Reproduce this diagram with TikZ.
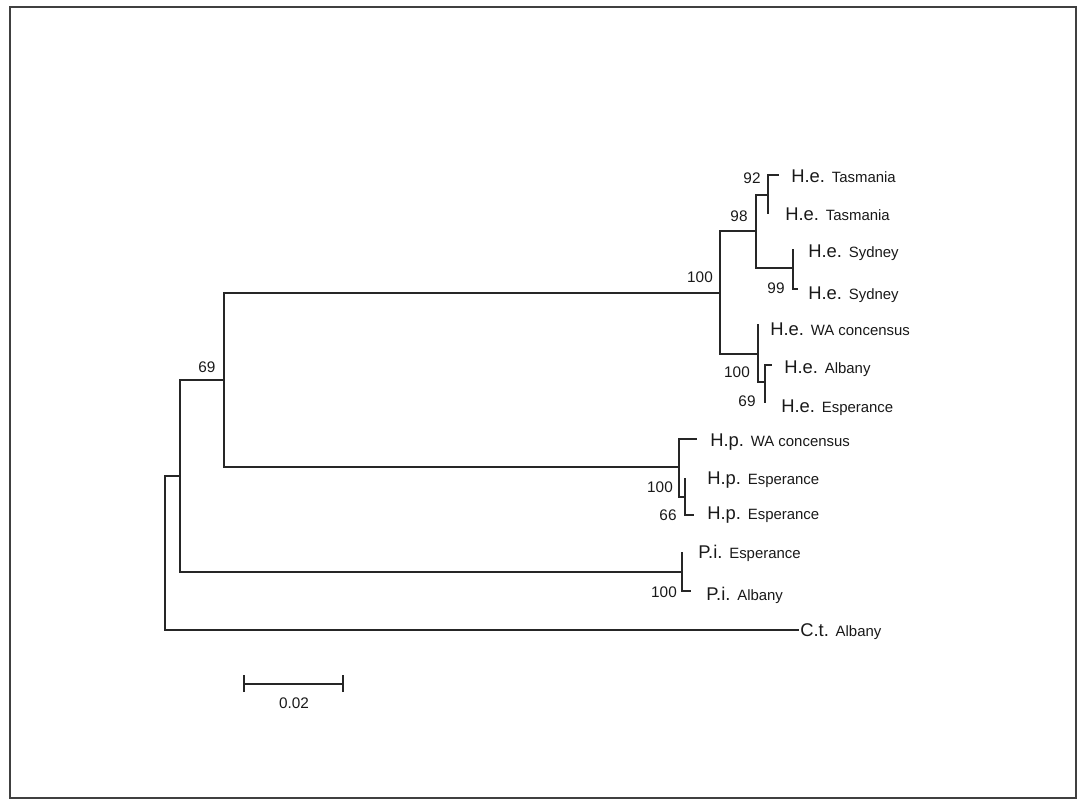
\documentclass[tikz,border=0pt]{standalone}
\usepackage{fontspec}
\setmainfont{Liberation Sans}
\newcommand\locn[1]{{\fontsize{11.2}{13}\selectfont #1}}
\begin{document}
\begin{tikzpicture}[x=0.75pt,y=-0.75pt,
  br/.style={line width=0.9pt,line cap=rect,draw=black!85},
  tip/.style={anchor=base west,inner sep=0pt,text=black!90,font=\fontsize{13.8}{15}\selectfont},
  sup/.style={inner sep=0pt,text=black!90,font=\fontsize{11.5}{13}\selectfont}]
\useasboundingbox (0,0) rectangle (1078,807);
\draw[line width=1.1pt,draw=black!75] (10,7) rectangle (1076,798);
% internal nodes
\coordinate (R) at (165,553);
\coordinate (A) at (180,476);
\coordinate (B) at (224,380);
\coordinate (He) at (720,293);
\coordinate (N98) at (756,231);
\coordinate (N92) at (768,195);
\coordinate (N99) at (793,268);
\coordinate (Nwa) at (758,354);
\coordinate (N69) at (765,382);
\coordinate (Hp) at (679,467);
\coordinate (N66) at (685,497);
\coordinate (Pi) at (682,572);
% leaf tips
\coordinate (t1) at (778,175);
\coordinate (t2) at (768,213);
\coordinate (t3) at (793,250);
\coordinate (t4) at (797,289);
\coordinate (t5) at (758,325);
\coordinate (t6) at (771,365);
\coordinate (t7) at (765,402);
\coordinate (t8) at (696,439);
\coordinate (t9) at (685,479);
\coordinate (t10) at (693,515);
\coordinate (t11) at (682,553);
\coordinate (t12) at (690,591);
\coordinate (t13) at (798,630);
% branches
\draw[br] (A) -| (R) |- (t13);
\draw[br] (B) -| (A) |- (Pi);
\draw[br] (He) -| (B) |- (Hp);
\draw[br] (N98) -| (He) |- (Nwa);
\draw[br] (N92) -| (N98) |- (N99);
\draw[br] (t1) -| (N92) |- (t2);
\draw[br] (t3) -| (N99) |- (t4);
\draw[br] (t5) -| (Nwa) |- (N69);
\draw[br] (t6) -| (N69) |- (t7);
\draw[br] (t8) -| (Hp) |- (N66);
\draw[br] (t9) -| (N66) |- (t10);
\draw[br] (t11) -| (Pi) |- (t12);
% leaf labels
\node[tip] (L1) at (791,182.5) {H.e. \locn{Tasmania}};
\node[tip] (L2) at (785,220.5) {H.e. \locn{Tasmania}};
\node[tip] (L3) at (808,257.5) {H.e. \locn{Sydney}};
\node[tip] (L4) at (808,299.5) {H.e. \locn{Sydney}};
\node[tip] (L5) at (770,335.5) {H.e. \locn{WA concensus}};
\node[tip] (L6) at (784,373.5) {H.e. \locn{Albany}};
\node[tip] (L7) at (781,412.5) {H.e. \locn{Esperance}};
\node[tip] (L8) at (710,446.5) {H.p. \locn{WA concensus}};
\node[tip] (L9) at (707,484.5) {H.p. \locn{Esperance}};
\node[tip] (L10) at (707,519.5) {H.p. \locn{Esperance}};
\node[tip] (L11) at (698,558.5) {P.i. \locn{Esperance}};
\node[tip] (L12) at (706,600.5) {P.i. \locn{Albany}};
\node[tip] (L13) at (800,636.5) {C.t. \locn{Albany}};
% support values
\node[sup] (s92) at (752,178) {92};
\node[sup] (s98) at (739,216) {98};
\node[sup] (s100a) at (700,277) {100};
\node[sup] (s99) at (776,288) {99};
\node[sup] (s100b) at (737,372) {100};
\node[sup] (s69b) at (747,401) {69};
\node[sup] (s69a) at (207,367) {69};
\node[sup] (s100c) at (660,487) {100};
\node[sup] (s66) at (668,515) {66};
\node[sup] (s100d) at (664,592) {100};
% scale bar
\coordinate (sb1) at (244,684);
\coordinate (sb2) at (343,684);
\draw[br,line cap=butt] (sb1) -- (sb2);
\draw[br,line cap=butt] ([yshift=-6]sb1) -- ([yshift=7]sb1);
\draw[br,line cap=butt] ([yshift=-6]sb2) -- ([yshift=7]sb2);
\node[sup] (sbl) at (294,703) {0.02};
\end{tikzpicture}
\end{document}
